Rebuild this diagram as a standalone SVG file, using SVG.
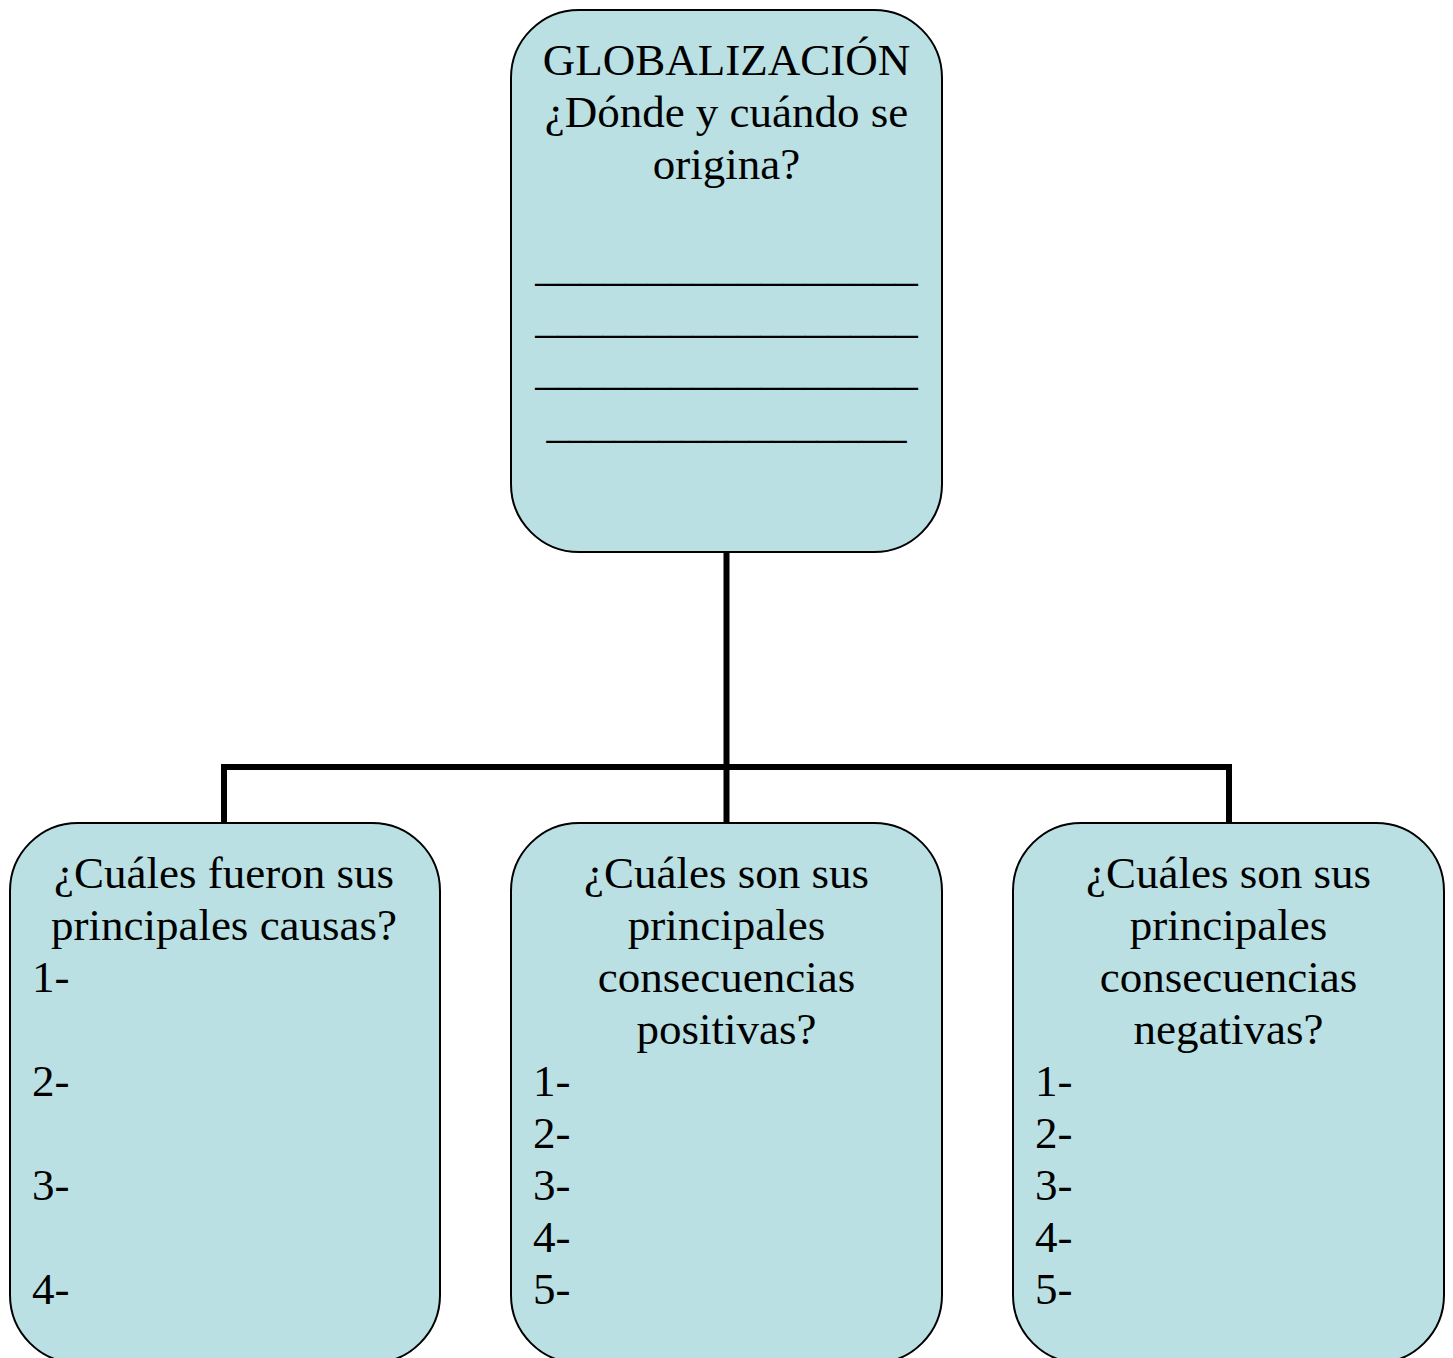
<svg xmlns="http://www.w3.org/2000/svg" width="1453" height="1358" viewBox="0 0 1453 1358">
<style>
.box{fill:#BAE0E3;stroke:#000;stroke-width:2}
.t{font-family:"Liberation Serif","Times New Roman",serif;font-size:45px;fill:#000}
.c{text-anchor:middle}
.conn{fill:none;stroke:#000;stroke-width:6}
</style>
<rect width="1453" height="1358" fill="#fff"/>
<g id="connectors">
<path class="conn" d="M726.5,552 V767 M224,767 H1229 M224,764 V823 M726.5,767 V823 M1229,764 V823"/>
</g>
<g id="node-top">
<rect class="box" x="511" y="10" width="431" height="542" rx="68" ry="68"/>
<text class="t c" x="726.5" y="75">GLOBALIZACIÓN</text>
<text class="t c" x="726.5" y="127">¿Dónde y cuándo se</text>
<text class="t c" x="726.5" y="179">origina?</text>
<text class="t c" x="726.5" y="280">_________________</text>
<text class="t c" x="726.5" y="332">_________________</text>
<text class="t c" x="726.5" y="384">_________________</text>
<text class="t c" x="726.5" y="437">________________</text>
</g>
<g id="node-causas">
<rect class="box" x="10" y="823" width="430" height="540" rx="68" ry="68"/>
<text class="t c" x="224" y="888">¿Cuáles fueron sus</text>
<text class="t c" x="224" y="940">principales causas?</text>
<text class="t" x="32" y="992">1-</text>
<text class="t" x="32" y="1096">2-</text>
<text class="t" x="32" y="1200">3-</text>
<text class="t" x="32" y="1304">4-</text>
</g>
<g id="node-positivas">
<rect class="box" x="511" y="823" width="431" height="540" rx="68" ry="68"/>
<text class="t c" x="726.5" y="888">¿Cuáles son sus</text>
<text class="t c" x="726.5" y="940">principales</text>
<text class="t c" x="726.5" y="992">consecuencias</text>
<text class="t c" x="726.5" y="1044">positivas?</text>
<text class="t" x="533" y="1096">1-</text>
<text class="t" x="533" y="1148">2-</text>
<text class="t" x="533" y="1200">3-</text>
<text class="t" x="533" y="1252">4-</text>
<text class="t" x="533" y="1304">5-</text>
</g>
<g id="node-negativas">
<rect class="box" x="1013" y="823" width="431" height="540" rx="68" ry="68"/>
<text class="t c" x="1228.5" y="888">¿Cuáles son sus</text>
<text class="t c" x="1228.5" y="940">principales</text>
<text class="t c" x="1228.5" y="992">consecuencias</text>
<text class="t c" x="1228.5" y="1044">negativas?</text>
<text class="t" x="1035" y="1096">1-</text>
<text class="t" x="1035" y="1148">2-</text>
<text class="t" x="1035" y="1200">3-</text>
<text class="t" x="1035" y="1252">4-</text>
<text class="t" x="1035" y="1304">5-</text>
</g>
</svg>
